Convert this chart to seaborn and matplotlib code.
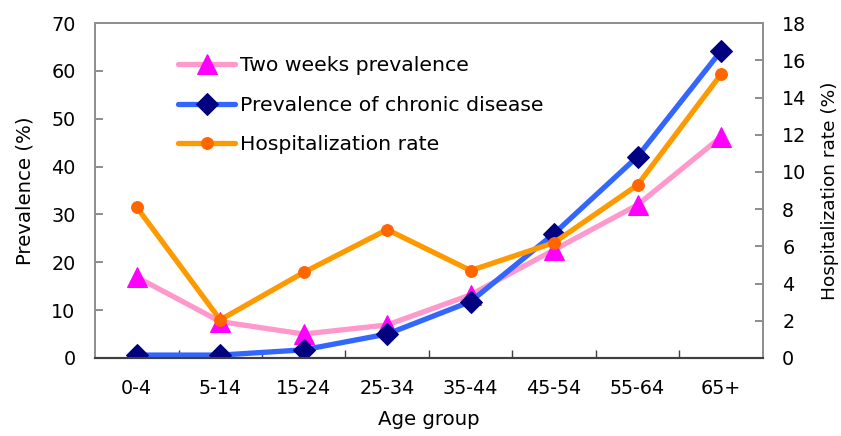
import matplotlib
matplotlib.use("Agg")
import matplotlib.pyplot as plt
from matplotlib.ticker import MultipleLocator, FixedLocator, NullFormatter
import seaborn as sns
import pandas as pd

age_groups = ["0-4", "5-14", "15-24", "25-34", "35-44", "45-54", "55-64", "65+"]
two_weeks_prev = [16.9, 7.6, 5.0, 6.9, 13.2, 22.6, 32.0, 46.2]
chronic_prev = [0.6, 0.6, 1.7, 5.0, 11.8, 26.0, 42.1, 64.2]
hosp_rate = [8.1, 2.05, 4.6, 6.9, 4.7, 6.2, 9.3, 15.25]

sns.set_theme(style="white")
plt.rcParams["font.family"] = ["DejaVu Sans"]
plt.rcParams["text.color"] = "black"

df = pd.DataFrame({
    "age": age_groups,
    "two": two_weeks_prev,
    "chronic": chronic_prev,
    "hosp": hosp_rate,
})

fig = plt.figure(figsize=(8.41, 4.36), dpi=100)
ax = fig.add_axes([0.113, 0.179, 0.794, 0.768])
ax2 = ax.twinx()

sns.lineplot(data=df, x="age", y="two", ax=ax, color="#FF99CC", lw=3.8,
             marker="^", markersize=14, markerfacecolor="#FF00FF",
             markeredgecolor="#FF00FF", sort=False,
             label="Two weeks prevalence", legend=False)
sns.lineplot(data=df, x="age", y="chronic", ax=ax, color="#3366FF", lw=3.8,
             marker="D", markersize=11, markerfacecolor="#000080",
             markeredgecolor="#000080", sort=False,
             label="Prevalence of chronic disease", legend=False)
sns.lineplot(data=df, x="age", y="hosp", ax=ax2, color="#FF9900", lw=3.8,
             marker="o", markersize=8.5, markerfacecolor="#FF6600",
             markeredgecolor="#FF6600", sort=False,
             label="Hospitalization rate", legend=False)

ax.set_xlim(-0.5, len(age_groups) - 0.5)
ax.set_ylim(0, 70)
ax2.set_ylim(0, 18)
ax.yaxis.set_major_locator(MultipleLocator(10))
ax2.yaxis.set_major_locator(MultipleLocator(2))

# category labels at centers, tick marks at category boundaries
ax.set_xticks(range(len(age_groups)))
ax.set_xticklabels(age_groups)
ax.xaxis.set_minor_locator(FixedLocator([i + 0.5 for i in range(len(age_groups) - 1)]))
ax.xaxis.set_minor_formatter(NullFormatter())
ax.tick_params(axis="x", which="major", length=0, pad=15, labelsize=13.8,
               labelcolor="black")
ax.tick_params(axis="x", which="minor", length=6, direction="in", color="#404040",
               bottom=True)
ax.tick_params(axis="y", length=6, direction="in", color="#808080", labelsize=13.8,
               pad=14, left=True, labelcolor="black")
ax2.tick_params(axis="y", length=6, direction="in", color="#808080", labelsize=13.8,
                pad=14, right=True, labelcolor="black")

for a in (ax, ax2):
    for side in ("top", "right", "left"):
        a.spines[side].set_color("#909090")
        a.spines[side].set_linewidth(1.3)
    a.spines["bottom"].set_color("#404040")
    a.spines["bottom"].set_linewidth(1.5)

ax.set_xlabel("Age group", fontsize=14.2, labelpad=9, color="black")
ax.set_ylabel("Prevalence (%)", fontsize=14.2, color="black")
ax2.set_ylabel("Hospitalization rate (%)", fontsize=13.3, color="black")
ax.yaxis.set_label_coords(-0.091, 0.5)
ax2.yaxis.set_label_coords(1.0875, 0.5)

h1, l1 = ax.get_legend_handles_labels()
h2, l2 = ax2.get_legend_handles_labels()
ax2.legend(h1 + h2, l1 + l2, loc="upper left", bbox_to_anchor=(0.2117, 0.871),
           bbox_transform=fig.transFigure, borderaxespad=0, borderpad=0,
           frameon=False, fontsize=14.7, handlelength=2.8, handletextpad=0.25,
           labelspacing=1.0)

fig.savefig("out.png", dpi=100)
